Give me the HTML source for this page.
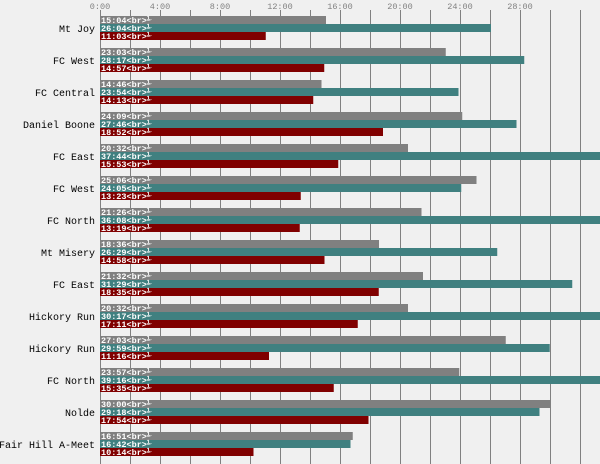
<!DOCTYPE html>
<html><head><meta charset="utf-8"><style>
html,body{margin:0;padding:0;background:#f0f0f0}
svg{display:block}
text{font-family:"Liberation Mono","DejaVu Sans Mono",monospace}
.c{font-size:10px;fill:#000;text-anchor:end}
.b{font-size:8.5px;fill:#fff;font-weight:bold}
.t{font-size:8.5px;fill:#808080;text-anchor:middle}
</style></head><body>
<svg width="600" height="464" viewBox="0 0 600 464" xmlns="http://www.w3.org/2000/svg">
<rect width="600" height="464" fill="#f0f0f0"/>
<g stroke="#808080" stroke-width="1">
<line x1="100.5" y1="10" x2="100.5" y2="464"/><line x1="130.5" y1="10" x2="130.5" y2="464"/><line x1="160.5" y1="10" x2="160.5" y2="464"/><line x1="190.5" y1="10" x2="190.5" y2="464"/><line x1="220.5" y1="10" x2="220.5" y2="464"/><line x1="250.5" y1="10" x2="250.5" y2="464"/><line x1="280.5" y1="10" x2="280.5" y2="464"/><line x1="310.5" y1="10" x2="310.5" y2="464"/><line x1="340.5" y1="10" x2="340.5" y2="464"/><line x1="370.5" y1="10" x2="370.5" y2="464"/><line x1="400.5" y1="10" x2="400.5" y2="464"/><line x1="430.5" y1="10" x2="430.5" y2="464"/><line x1="460.5" y1="10" x2="460.5" y2="464"/><line x1="490.5" y1="10" x2="490.5" y2="464"/><line x1="520.5" y1="10" x2="520.5" y2="464"/><line x1="550.5" y1="10" x2="550.5" y2="464"/><line x1="580.5" y1="10" x2="580.5" y2="464"/>
</g>
<text class="t" x="100" y="9">0:00</text><text class="t" x="160" y="9">4:00</text><text class="t" x="220" y="9">8:00</text><text class="t" x="280" y="9">12:00</text><text class="t" x="340" y="9">16:00</text><text class="t" x="400" y="9">20:00</text><text class="t" x="460" y="9">24:00</text><text class="t" x="520" y="9">28:00</text>

<g transform="translate(0,0)"><rect x="100" y="16" width="226" height="8" fill="#808080"/><rect x="100" y="24" width="391" height="8" fill="#408080"/><rect x="100" y="32" width="165.75" height="8" fill="#800000"/><text class="c" x="95" y="32">Mt Joy</text><text class="b" x="101" y="23">15:04&lt;br&gt;⅟</text><text class="b" x="101" y="31">26:04&lt;br&gt;⅟</text><text class="b" x="101" y="39">11:03&lt;br&gt;⅟</text></g>
<g transform="translate(0,32)"><rect x="100" y="16" width="345.75" height="8" fill="#808080"/><rect x="100" y="24" width="424.25" height="8" fill="#408080"/><rect x="100" y="32" width="224.25" height="8" fill="#800000"/><text class="c" x="95" y="32">FC West</text><text class="b" x="101" y="23">23:03&lt;br&gt;⅟</text><text class="b" x="101" y="31">28:17&lt;br&gt;⅟</text><text class="b" x="101" y="39">14:57&lt;br&gt;⅟</text></g>
<g transform="translate(0,64)"><rect x="100" y="16" width="221.5" height="8" fill="#808080"/><rect x="100" y="24" width="358.5" height="8" fill="#408080"/><rect x="100" y="32" width="213.25" height="8" fill="#800000"/><text class="c" x="95" y="32">FC Central</text><text class="b" x="101" y="23">14:46&lt;br&gt;⅟</text><text class="b" x="101" y="31">23:54&lt;br&gt;⅟</text><text class="b" x="101" y="39">14:13&lt;br&gt;⅟</text></g>
<g transform="translate(0,96)"><rect x="100" y="16" width="362.25" height="8" fill="#808080"/><rect x="100" y="24" width="416.5" height="8" fill="#408080"/><rect x="100" y="32" width="283" height="8" fill="#800000"/><text class="c" x="95" y="32">Daniel Boone</text><text class="b" x="101" y="23">24:09&lt;br&gt;⅟</text><text class="b" x="101" y="31">27:46&lt;br&gt;⅟</text><text class="b" x="101" y="39">18:52&lt;br&gt;⅟</text></g>
<g transform="translate(0,128)"><rect x="100" y="16" width="308" height="8" fill="#808080"/><rect x="100" y="24" width="566" height="8" fill="#408080"/><rect x="100" y="32" width="238.25" height="8" fill="#800000"/><text class="c" x="95" y="32">FC East</text><text class="b" x="101" y="23">20:32&lt;br&gt;⅟</text><text class="b" x="101" y="31">37:44&lt;br&gt;⅟</text><text class="b" x="101" y="39">15:53&lt;br&gt;⅟</text></g>
<g transform="translate(0,160)"><rect x="100" y="16" width="376.5" height="8" fill="#808080"/><rect x="100" y="24" width="361.25" height="8" fill="#408080"/><rect x="100" y="32" width="200.75" height="8" fill="#800000"/><text class="c" x="95" y="32">FC West</text><text class="b" x="101" y="23">25:06&lt;br&gt;⅟</text><text class="b" x="101" y="31">24:05&lt;br&gt;⅟</text><text class="b" x="101" y="39">13:23&lt;br&gt;⅟</text></g>
<g transform="translate(0,192)"><rect x="100" y="16" width="321.5" height="8" fill="#808080"/><rect x="100" y="24" width="542" height="8" fill="#408080"/><rect x="100" y="32" width="199.75" height="8" fill="#800000"/><text class="c" x="95" y="32">FC North</text><text class="b" x="101" y="23">21:26&lt;br&gt;⅟</text><text class="b" x="101" y="31">36:08&lt;br&gt;⅟</text><text class="b" x="101" y="39">13:19&lt;br&gt;⅟</text></g>
<g transform="translate(0,224)"><rect x="100" y="16" width="279" height="8" fill="#808080"/><rect x="100" y="24" width="397.25" height="8" fill="#408080"/><rect x="100" y="32" width="224.5" height="8" fill="#800000"/><text class="c" x="95" y="32">Mt Misery</text><text class="b" x="101" y="23">18:36&lt;br&gt;⅟</text><text class="b" x="101" y="31">26:29&lt;br&gt;⅟</text><text class="b" x="101" y="39">14:58&lt;br&gt;⅟</text></g>
<g transform="translate(0,256)"><rect x="100" y="16" width="323" height="8" fill="#808080"/><rect x="100" y="24" width="472.25" height="8" fill="#408080"/><rect x="100" y="32" width="278.75" height="8" fill="#800000"/><text class="c" x="95" y="32">FC East</text><text class="b" x="101" y="23">21:32&lt;br&gt;⅟</text><text class="b" x="101" y="31">31:29&lt;br&gt;⅟</text><text class="b" x="101" y="39">18:35&lt;br&gt;⅟</text></g>
<g transform="translate(0,288)"><rect x="100" y="16" width="308" height="8" fill="#808080"/><rect x="100" y="24" width="554.25" height="8" fill="#408080"/><rect x="100" y="32" width="257.75" height="8" fill="#800000"/><text class="c" x="95" y="32">Hickory Run</text><text class="b" x="101" y="23">20:32&lt;br&gt;⅟</text><text class="b" x="101" y="31">30:17&lt;br&gt;⅟</text><text class="b" x="101" y="39">17:11&lt;br&gt;⅟</text></g>
<g transform="translate(0,320)"><rect x="100" y="16" width="405.75" height="8" fill="#808080"/><rect x="100" y="24" width="449.75" height="8" fill="#408080"/><rect x="100" y="32" width="169" height="8" fill="#800000"/><text class="c" x="95" y="32">Hickory Run</text><text class="b" x="101" y="23">27:03&lt;br&gt;⅟</text><text class="b" x="101" y="31">29:59&lt;br&gt;⅟</text><text class="b" x="101" y="39">11:16&lt;br&gt;⅟</text></g>
<g transform="translate(0,352)"><rect x="100" y="16" width="359.25" height="8" fill="#808080"/><rect x="100" y="24" width="589" height="8" fill="#408080"/><rect x="100" y="32" width="233.75" height="8" fill="#800000"/><text class="c" x="95" y="32">FC North</text><text class="b" x="101" y="23">23:57&lt;br&gt;⅟</text><text class="b" x="101" y="31">39:16&lt;br&gt;⅟</text><text class="b" x="101" y="39">15:35&lt;br&gt;⅟</text></g>
<g transform="translate(0,384)"><rect x="100" y="16" width="450" height="8" fill="#808080"/><rect x="100" y="24" width="439.5" height="8" fill="#408080"/><rect x="100" y="32" width="268.5" height="8" fill="#800000"/><text class="c" x="95" y="32">Nolde</text><text class="b" x="101" y="23">30:00&lt;br&gt;⅟</text><text class="b" x="101" y="31">29:18&lt;br&gt;⅟</text><text class="b" x="101" y="39">17:54&lt;br&gt;⅟</text></g>
<g transform="translate(0,416)"><rect x="100" y="16" width="252.75" height="8" fill="#808080"/><rect x="100" y="24" width="250.5" height="8" fill="#408080"/><rect x="100" y="32" width="153.5" height="8" fill="#800000"/><text class="c" x="95" y="32">Fair Hill A-Meet</text><text class="b" x="101" y="23">16:51&lt;br&gt;⅟</text><text class="b" x="101" y="31">16:42&lt;br&gt;⅟</text><text class="b" x="101" y="39">10:14&lt;br&gt;⅟</text></g>
</svg>
</body></html>
